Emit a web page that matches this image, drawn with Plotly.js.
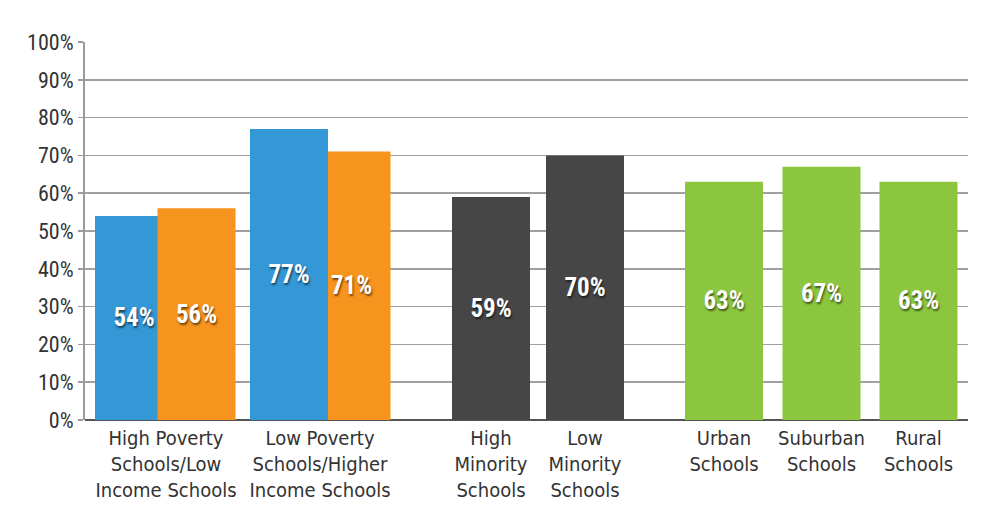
<!DOCTYPE html>
<html><head><meta charset="utf-8">
<script src="https://cdn.plot.ly/plotly-3.0.1.min.js"></script>
<style>html,body{margin:0;padding:0;background:#fff}</style>
</head><body><div id="chart" style="width:1000px;height:524px"></div>
<script>
// ---- data ----
const categories = [
  "High Poverty<br>Schools/Low<br>Income Schools",
  "Low Poverty<br>Schools/Higher<br>Income Schools",
  "High<br>Minority<br>Schools",
  "Low<br>Minority<br>Schools",
  "Urban<br>Schools",
  "Suburban<br>Schools",
  "Rural<br>Schools"
];
const povertyValues = [54, 77];     // blue
const incomeValues = [56, 71];      // orange
const minorityValues = [59, 70];    // dark gray
const localeValues = [63, 67, 63];  // green
const yTickValues = [0, 10, 20, 30, 40, 50, 60, 70, 80, 90, 100];
const yTickLabels = yTickValues.map(v => v + "%");

// ---- layout constants (positions in axis units) ----
const povertyX = [134, 289];
const incomeX = [196.5, 351.5];
const minorityX = [491, 585];
const localeX = [724, 821.5, 918.5];
const categoryX = [166, 320, 491, 585, 724, 821.5, 918.5];
const BAR_W = 78;
const COLORS = {poverty: "#3497d6", income: "#f7941e", minority: "#464646", locale: "#8cc63f"};
const CONDENSED = "Roboto Condensed, DejaVu Sans Condensed, sans-serif";

const bars = [];
povertyValues.forEach((v, i) => bars.push({x: povertyX[i], v, c: COLORS.poverty}));
incomeValues.forEach((v, i) => bars.push({x: incomeX[i], v, c: COLORS.income}));
minorityValues.forEach((v, i) => bars.push({x: minorityX[i], v, c: COLORS.minority}));
localeValues.forEach((v, i) => bars.push({x: localeX[i], v, c: COLORS.locale}));
// taller bar drawn in front where bars overlap
bars.sort((a, b) => a.v - b.v);

const traces = bars.map(b => ({
  type: "bar",
  x: [b.x], y: [b.v], width: [BAR_W],
  marker: {color: b.c, line: {width: 0}},
  text: [b.v + "%"],
  textposition: "inside",
  insidetextanchor: "middle",
  textangle: 0,
  textfont: {family: CONDENSED, size: 25, color: "#ffffff", weight: "bold",
             shadow: "1px 2px 2px rgba(0,0,0,0.55)"},
  hoverinfo: "skip",
  showlegend: false
}));

const layout = {
  width: 1000, height: 524,
  margin: {l: 85, r: 32, t: 42, b: 104, pad: 0},
  paper_bgcolor: "#ffffff", plot_bgcolor: "#ffffff",
  barmode: "overlay",
  showlegend: false,
  xaxis: {
    range: [85, 968], fixedrange: true,
    showgrid: false, zeroline: false, showline: false,
    tickmode: "array", tickvals: categoryX, ticktext: categories,
    ticks: "", ticklen: 0, ticklabelstandoff: 4,
    tickfont: {family: "DejaVu Sans Condensed, sans-serif", size: 20, color: "#333333"}
  },
  yaxis: {
    range: [0, 100], fixedrange: true,
    tickmode: "array", tickvals: yTickValues, ticktext: yTickLabels,
    showgrid: true, gridcolor: "#a0a0a0", gridwidth: 1.5,
    zeroline: true, zerolinecolor: "#555555", zerolinewidth: 2.5,
    showline: true, linecolor: "#9a9a9a", linewidth: 2,
    ticks: "outside", ticklen: 5, tickcolor: "#9a9a9a", tickwidth: 1.5,
    tickfont: {family: CONDENSED, size: 22, color: "#333333"}
  }
};

Plotly.newPlot("chart", traces, layout, {displayModeBar: false, staticPlot: true});
</script>
</body></html>
